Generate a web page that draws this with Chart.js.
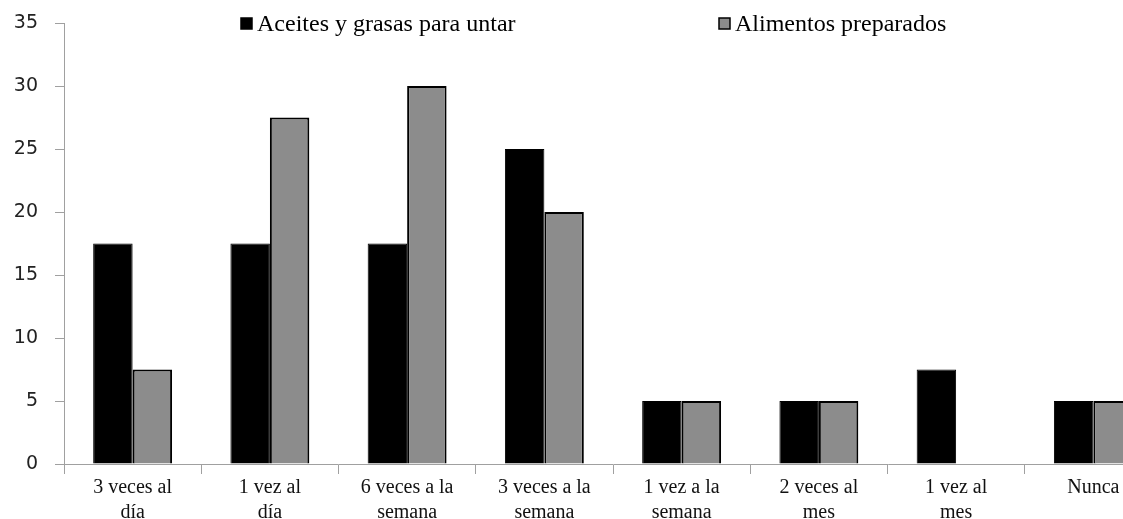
<!DOCTYPE html>
<html>
<head>
<meta charset="utf-8">
<script src="https://cdn.jsdelivr.net/npm/chart.js@4/dist/chart.umd.min.js"></script>
<style>
  html, body { margin: 0; padding: 0; background: #fff; overflow: hidden; }
  #wrap { width: 1123px; height: 519px; overflow: hidden; }
</style>
</head>
<body>
<div id="wrap"><canvas id="freqChart" width="1170" height="519"></canvas></div>
<script>
const categories = [
    ['3 veces al', 'día'],
    ['1 vez al', 'día'],
    ['6 veces a la', 'semana'],
    ['3 veces a la', 'semana'],
    ['1 vez a la', 'semana'],
    ['2 veces al', 'mes'],
    ['1 vez al', 'mes'],
    'Nunca'
];
const seriesNames = ['Aceites y grasas para untar', 'Alimentos preparados'];
const aceites = [17.5, 17.5, 17.5, 25, 5, 5, 7.5, 5];
const preparados = [7.5, 27.5, 30, 20, 5, 5, 0, 5];
const yTicks = [0, 5, 10, 15, 20, 25, 30, 35];

const AXIS_GRAY = '#a0a0a0';

// legend drawn inside the plot area, like the original
const insideLegend = {
    id: 'insideLegend',
    afterDraw(chart) {
        const c = chart.ctx;
        const xs = [241, 719];
        c.save();
        c.font = '24px "Liberation Serif", serif';
        c.textBaseline = 'middle';
        chart.data.datasets.forEach((ds, i) => {
            const x = xs[i];
            const y = 23;
            c.fillStyle = ds.backgroundColor;
            c.fillRect(x, y - 5, 11, 11);
            c.lineWidth = 1.5;
            c.strokeStyle = '#000';
            c.strokeRect(x, y - 5, 11, 11);
            c.fillStyle = '#000';
            c.fillText(ds.label, x + 16, y + 2);
        });
        c.restore();
    }
};

new Chart(document.getElementById('freqChart').getContext('2d'), {
    type: 'bar',
    data: {
        labels: categories,
        datasets: [
            {
                label: seriesNames[0],
                data: aceites,
                backgroundColor: '#000000',
                borderColor: '#000000',
                borderWidth: 1,
                categoryPercentage: 0.575,
                barPercentage: 1.0
            },
            {
                label: seriesNames[1],
                data: preparados,
                backgroundColor: '#8c8c8c',
                borderColor: '#000000',
                borderWidth: 2,
                categoryPercentage: 0.575,
                barPercentage: 1.0
            }
        ]
    },
    options: {
        responsive: false,
        animation: false,
        layout: {
            padding: { left: 0, right: 8, top: 23, bottom: 0 }
        },
        scales: {
            x: {
                grid: {
                    display: true,
                    offset: true,
                    drawOnChartArea: false,
                    drawTicks: true,
                    tickLength: 10,
                    color: AXIS_GRAY
                },
                border: { display: true, color: AXIS_GRAY, width: 1 },
                ticks: {
                    color: '#111',
                    padding: 1,
                    maxRotation: 0,
                    minRotation: 0,
                    autoSkip: false,
                    font: { family: '"Liberation Serif", serif', size: 20, lineHeight: 1.25 }
                },
                afterFit(scale) { scale.height = 55; }
            },
            y: {
                min: 0,
                max: 35,
                afterBuildTicks(scale) { scale.ticks = yTicks.map(v => ({ value: v })); },
                grid: {
                    display: true,
                    drawOnChartArea: false,
                    drawTicks: true,
                    tickLength: 9,
                    color: AXIS_GRAY
                },
                border: { display: true, color: AXIS_GRAY, width: 1 },
                ticks: {
                    color: '#222',
                    padding: 17,
                    font: { family: '"DejaVu Sans", sans-serif', size: 19 }
                },
                afterFit(scale) {
                    scale.width = 64;
                    scale.paddingTop = 0;
                    scale.paddingBottom = 0;
                }
            }
        },
        plugins: {
            legend: { display: false },
            tooltip: { enabled: false }
        }
    },
    plugins: [insideLegend]
});
</script>
</body>
</html>
